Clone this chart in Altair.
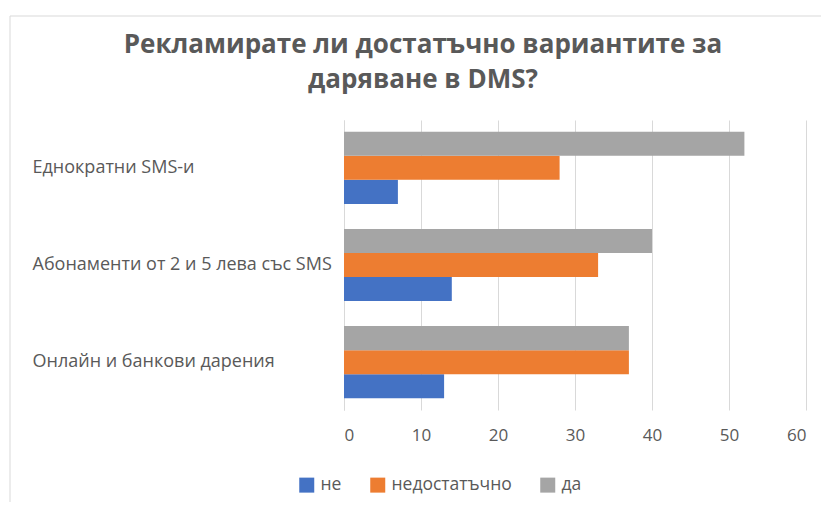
import altair as alt
import pandas as pd

categories = ["Еднократни SMS-и", "Абонаменти от 2 и 5 лева със SMS", "Онлайн и банкови дарения"]
series = ["не", "недостатъчно", "да"]
values_ne = [7, 14, 13]
values_nedost = [28, 33, 37]
values_da = [52, 40, 37]
colors = ["#4472C4", "#ED7D31", "#A5A5A5"]
x_ticks = [0, 10, 20, 30, 40, 50, 60]

rows = []
for s, vals in zip(series, [values_ne, values_nedost, values_da]):
    for c, v in zip(categories, vals):
        rows.append({"category": c, "series": s, "value": v})
df = pd.DataFrame(rows)

FONT = "Open Sans"
TXT = "#595959"

bars = alt.Chart(df).mark_bar().encode(
    x=alt.X("value:Q", scale=alt.Scale(domain=[0, 60], nice=False),
            axis=alt.Axis(values=x_ticks, title=None, domain=False, ticks=False,
                          grid=True, gridColor="#d9d9d9", gridWidth=1,
                          labelPadding=17, labelFontSize=17, labelColor=TXT, labelFont=FONT)),
    y=alt.Y("category:N", sort=categories,
            scale=alt.Scale(paddingInner=0.257, paddingOuter=0.12),
            axis=alt.Axis(title=None, ticks=False, domain=True, domainColor="#d9d9d9",
                          labelAlign="left", labelPadding=312, labelFontSize=18,
                          labelColor=TXT, labelFont=FONT, labelLimit=400)),
    yOffset=alt.YOffset("series:N", sort=["да", "недостатъчно", "не"],
                        scale=alt.Scale(paddingInner=0, paddingOuter=0)),
    color=alt.Color("series:N", sort=series,
                    scale=alt.Scale(domain=series, range=colors),
                    legend=alt.Legend(title=None, orient="none", direction="horizontal",
                                      legendX=-46, legendY=356, symbolType="square",
                                      symbolSize=225, symbolStrokeWidth=0, labelFontSize=17.5,
                                      labelColor=TXT, labelFont=FONT, columnPadding=27,
                                      labelOffset=5)),
)

frame_df = pd.DataFrame({"k": [0]})
frame_top = alt.Chart(frame_df).mark_rule(color="#d9d9d9", strokeWidth=1).encode(
    x=alt.value(-334), x2=alt.value(480), y=alt.value(-104)
)
frame_left = alt.Chart(frame_df).mark_rule(color="#d9d9d9", strokeWidth=1).encode(
    x=alt.value(-334), y=alt.value(-104), y2=alt.value(390)
)

chart = alt.layer(frame_top, frame_left, bars).properties(
    width=462,
    height=290,
    autosize=alt.AutoSizeParams(type="none"),
    padding={"left": 336, "top": 112, "right": 15, "bottom": 92},
    title=alt.TitleParams(
        text=["Рекламирате ли достатъчно вариантите за", "даряване в DMS?"],
        font=FONT, fontSize=26, fontWeight="bold", color=TXT,
        anchor="middle", dx=-152, offset=-77, lineHeight=35,
    ),
).configure_view(stroke=None)

chart.save("out.html", embed_options={"renderer": "svg", "actions": False})
